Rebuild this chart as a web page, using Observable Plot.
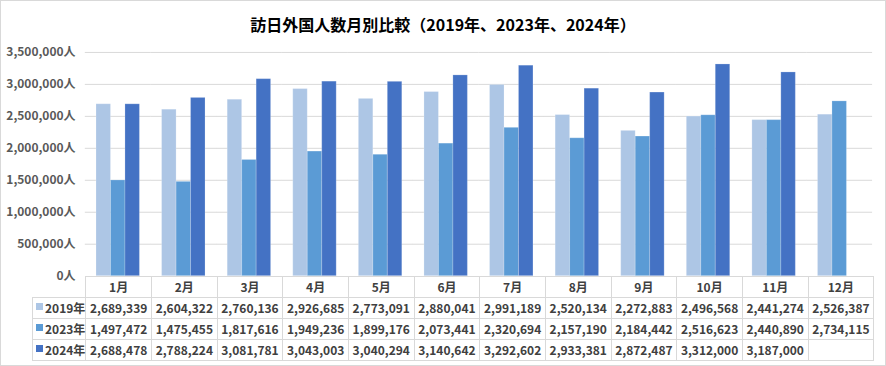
<!DOCTYPE html>
<html>
<head>
<meta charset="utf-8">
<script src="https://cdn.jsdelivr.net/npm/d3@7"></script>
<script src="https://cdn.jsdelivr.net/npm/@observablehq/plot@0.6"></script>
<style>
  html, body { margin: 0; padding: 0; background: #fff; }
  #chart { position: relative; width: 884px; height: 364px; border: 1px solid #d9d9d9; overflow: hidden;
    font-family: "Noto Sans CJK JP", "Noto Sans", sans-serif; }
  #title { position: absolute; left: 0; width: 884px; top: 11px; text-align: center; font-size: 16px; font-weight: bold; color: #000; }
  #plot { position: absolute; left: -1px; top: -1px; }
  #table { position: absolute; left: 31px; top: 275px; border-collapse: collapse; table-layout: fixed;
    font-size: 12px; font-weight: bold; color: #404040; }
  #table td { border: 1px solid #d9d9d9; height: 20px; padding: 0; text-align: center; line-height: 20px; white-space: nowrap; }
  #table td.blank { border: none; border-right: 1px solid #d9d9d9; }
  #table td.lab { text-align: left; padding-left: 3px; }
  .sw { display: inline-block; width: 7px; height: 7px; margin-right: 2px; vertical-align: 3px; }
</style>
</head>
<body>
<div id="chart">
  <div id="title">訪日外国人数月別比較（2019年、2023年、2024年）</div>
  <div id="plot"></div>
  <table id="table"></table>
</div>
<script>
const months = ["1月","2月","3月","4月","5月","6月","7月","8月","9月","10月","11月","12月"];
const years = ["2019年","2023年","2024年"];
const colors = ["#adc6e5","#5b9bd5","#4472c4"];
const values2019 = [2689339,2604322,2760136,2926685,2773091,2880041,2991189,2520134,2272883,2496568,2441274,2526387];
const values2023 = [1497472,1475455,1817616,1949236,1899176,2073441,2320694,2157190,2184442,2516623,2440890,2734115];
const values2024 = [2688478,2788224,3081781,3043003,3040294,3140642,3292602,2933381,2872487,3312000,3187000,null];
const yTicks = [0,500000,1000000,1500000,2000000,2500000,3000000,3500000];

const series = [values2019, values2023, values2024];
const data = [];
months.forEach((m, i) => years.forEach((y, j) => {
  if (series[j][i] != null) data.push({month: m, year: y, value: series[j][i]});
}));
const fmt = d3.format(",");

const chart = Plot.plot({
  width: 886,
  height: 292,
  marginTop: 52,
  marginBottom: 16,
  marginLeft: 85,
  marginRight: 13,
  style: {fontFamily: '"Noto Sans CJK JP", sans-serif', fontSize: "12px", fontWeight: "bold", color: "#595959", background: "transparent", overflow: "visible"},
  fx: {domain: months, paddingInner: 0.338, paddingOuter: 0.169, round: false, axis: null},
  x: {domain: years, padding: 0, round: false, axis: null},
  y: {domain: [0, 3500000], ticks: yTicks, tickFormat: d => fmt(d) + "人", tickSize: 0, tickPadding: 21, label: null},
  color: {domain: years, range: colors},
  marks: [
    Plot.ruleY(yTicks.slice(1), {stroke: "#d9d9d9", strokeWidth: 1, insetLeft: -11.2, insetRight: -11.2}),
    Plot.barY(data, {fx: "month", x: "year", y: "value", fill: "year", stroke: "#ffffff", strokeOpacity: 0.2, strokeWidth: 1})
  ]
});
document.getElementById("plot").appendChild(chart);

// data table below the chart
const table = document.getElementById("table");
const colg = document.createElement("colgroup");
const c0 = document.createElement("col"); c0.style.width = "53px"; colg.appendChild(c0);
months.forEach(() => { const c = document.createElement("col"); c.style.width = (788 / 12) + "px"; colg.appendChild(c); });
table.appendChild(colg);
const head = document.createElement("tr");
head.innerHTML = '<td class="blank"></td>' + months.map(m => `<td>${m}</td>`).join("");
table.appendChild(head);
years.forEach((y, j) => {
  const tr = document.createElement("tr");
  tr.innerHTML = `<td class="lab"><span class="sw" style="background:${colors[j]}"></span>${y}</td>` +
    series[j].map(v => `<td>${v == null ? "" : fmt(v)}</td>`).join("");
  table.appendChild(tr);
});
</script>
</body>
</html>
